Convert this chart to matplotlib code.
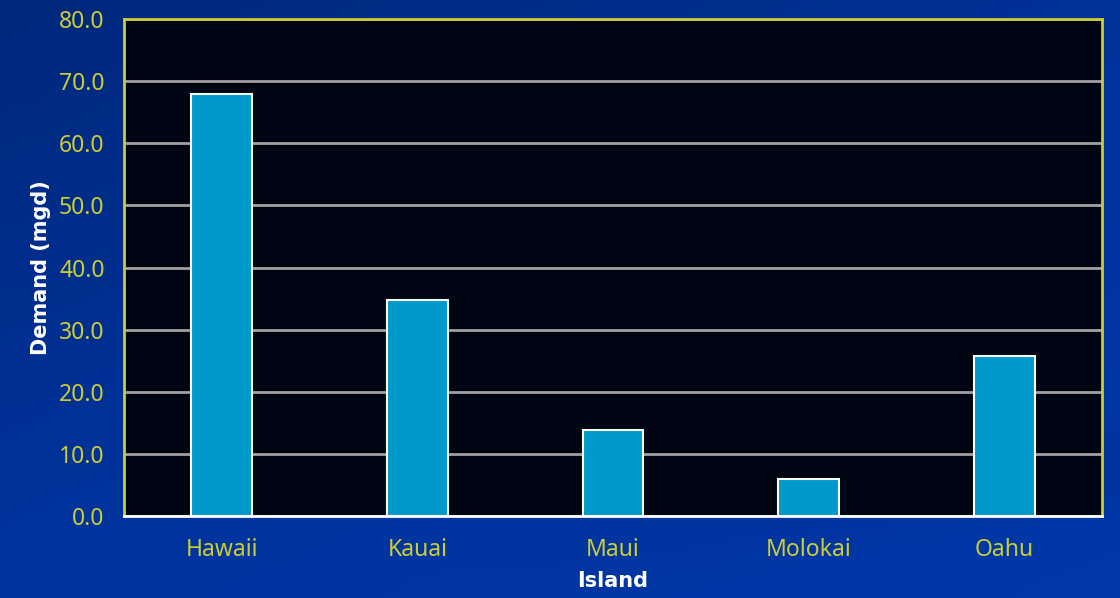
import numpy as np
import matplotlib
matplotlib.use("Agg")
import matplotlib.pyplot as plt
from matplotlib.colors import LinearSegmentedColormap

# data
islands = ["Hawaii", "Kauai", "Maui", "Molokai", "Oahu"]
demand = [68.0, 34.8, 13.9, 6.0, 25.8]
y_ticks = [0, 10, 20, 30, 40, 50, 60, 70, 80]

yellow = "#cccc33"
bar_color = "#0099cc"

plt.rcParams["font.family"] = ["Noto Sans", "DejaVu Sans"]

fig = plt.figure(figsize=(11.2, 5.98), dpi=100)

# blue slide background
bg = fig.add_axes([0, 0, 1, 1])
h, w = 120, 224
yy, xx = np.mgrid[0:1:h * 1j, 0:1:w * 1j]
grad = 0.35 * xx + 0.45 * yy
# soft diagonal swoosh bottom right
swoosh = np.exp(-((yy - (0.78 + 0.25 * (1 - xx))) ** 2) / 0.004) * (xx > 0.4) * (xx - 0.4)
grad = grad - 0.5 * swoosh
cmap = LinearSegmentedColormap.from_list("slide", ["#00287c", "#00339c", "#0038aa"])
bg.imshow(grad, cmap=cmap, aspect="auto", extent=[0, 1, 0, 1], origin="upper")
bg.axis("off")

ax = fig.add_axes([0.1107, 0.137, 0.8733, 0.831])
ax.set_facecolor("#000514")
x = np.arange(len(islands))
ax.bar(x, demand, width=0.31, color=bar_color, edgecolor="white", linewidth=1.5, zorder=3)

ax.set_xlim(-0.5, len(islands) - 0.5)
ax.set_ylim(0, 80)
ax.set_yticks(y_ticks)
ax.set_yticklabels([f"{v:.1f}" for v in y_ticks])
ax.set_xticks(x)
ax.set_xticklabels(islands)
ax.grid(axis="y", color="#a0a0a0", linewidth=2, zorder=1)
ax.tick_params(axis="both", length=0, colors=yellow, labelsize=16.5)
ax.tick_params(axis="x", pad=16)
ax.tick_params(axis="y", pad=14)

for side in ["left", "top", "right"]:
    ax.spines[side].set_color(yellow)
    ax.spines[side].set_linewidth(2)
ax.spines["bottom"].set_color("white")
ax.spines["bottom"].set_linewidth(2)
ax.spines["bottom"].set_zorder(4)

ax.set_ylabel("Demand (mgd)", color="white", fontsize=15, fontweight="bold",
              family=["DejaVu Sans"], labelpad=6)
ax.set_xlabel("Island", color="white", fontsize=15, fontweight="bold",
              family=["DejaVu Sans"], labelpad=6)

fig.savefig("out.png", dpi=100)
